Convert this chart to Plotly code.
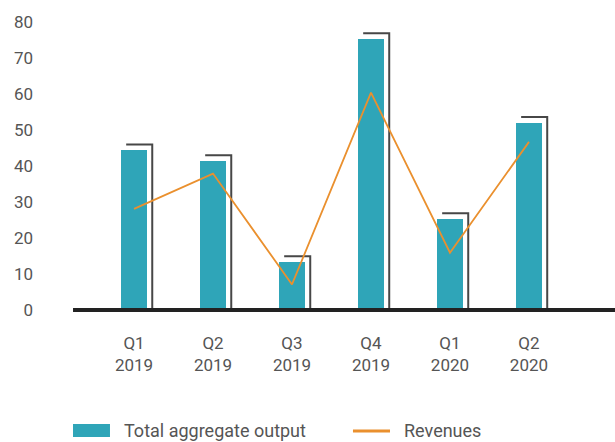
import plotly.graph_objects as go

categories = ["Q1<br>2019", "Q2<br>2019", "Q3<br>2019", "Q4<br>2019", "Q1<br>2020", "Q2<br>2020"]
output_values = [44.4, 41.4, 13.3, 75.3, 25.3, 52.0]
revenue_values = [28.1, 37.9, 7.1, 60.4, 15.9, 46.7]
y_ticks = [0, 10, 20, 30, 40, 50, 60, 70, 80]

TEAL = "#2fa5b8"
ORANGE = "#ea902e"
TEXT = "#555555"
FONT = "Roboto"

x_pos = list(range(len(categories)))
bar_w = 0.33
dx = 0.066   # bracket horizontal offset (category units)
dy = 1.6     # bracket vertical offset (value units)

# Bracket "shadow" lines: top edge and right edge of an offset outline
bx, by = [], []
for i, v in zip(x_pos, output_values):
    bx += [i - bar_w / 2 + dx, i + bar_w / 2 + dx, i + bar_w / 2 + dx, None]
    by += [v + dy, v + dy, 0, None]

fig = go.Figure()
fig.add_trace(go.Scatter(x=bx, y=by, mode="lines", line=dict(color="#474747", width=2),
                         showlegend=False, hoverinfo="skip"))
fig.add_trace(go.Bar(x=x_pos, y=output_values, width=bar_w, marker=dict(color=TEAL, line=dict(width=0)),
                     name="Total aggregate output", showlegend=False))
fig.add_trace(go.Scatter(x=x_pos, y=revenue_values, mode="lines", line=dict(color=ORANGE, width=1.8),
                         name="Revenues", showlegend=False))

# baseline
fig.add_shape(type="line", xref="x", yref="y", x0=-0.772, x1=6.2, y0=0, y1=0,
              line=dict(color="#222222", width=4), layer="above")

# custom legend
fig.add_shape(type="rect", xref="paper", yref="paper", x0=0.0574, x1=0.1217, y0=-0.397, y1=-0.354,
              fillcolor=TEAL, line=dict(width=0))
fig.add_shape(type="line", xref="paper", yref="paper", x0=0.5443, x1=0.6087, y0=-0.3775, y1=-0.3775,
              line=dict(color=ORANGE, width=3))
fig.add_annotation(text="Total aggregate output", xref="paper", yref="paper", x=0.1426, y=-0.3758,
                   xanchor="left", yanchor="middle", showarrow=False, font=dict(family=FONT, size=18, color=TEXT))
fig.add_annotation(text="Revenues", xref="paper", yref="paper", x=0.6296, y=-0.3758,
                   xanchor="left", yanchor="middle", showarrow=False, font=dict(family=FONT, size=18, color=TEXT))

fig.update_layout(
    width=615, height=442,
    margin=dict(l=40, r=0, t=15, b=125),
    paper_bgcolor="white", plot_bgcolor="white",
    font=dict(family=FONT, size=17, color=TEXT),
    showlegend=False,
    bargap=0,
)
fig.update_xaxes(range=[-1.19, 6.089], tickvals=x_pos, ticktext=categories, showgrid=False,
                 zeroline=False, showline=False, ticks="", ticklabelstandoff=14,
                 tickfont=dict(family=FONT, size=17, color=TEXT))
fig.update_yaxes(range=[-1.944, 81.944], tickvals=y_ticks, showgrid=False, zeroline=False,
                 showline=False, ticks="", ticklabelstandoff=6,
                 tickfont=dict(family=FONT, size=17, color=TEXT))

fig.write_html("out.html", config={"displayModeBar": False},
               post_script="document.body.style.margin='0px';document.body.style.overflow='hidden';")
